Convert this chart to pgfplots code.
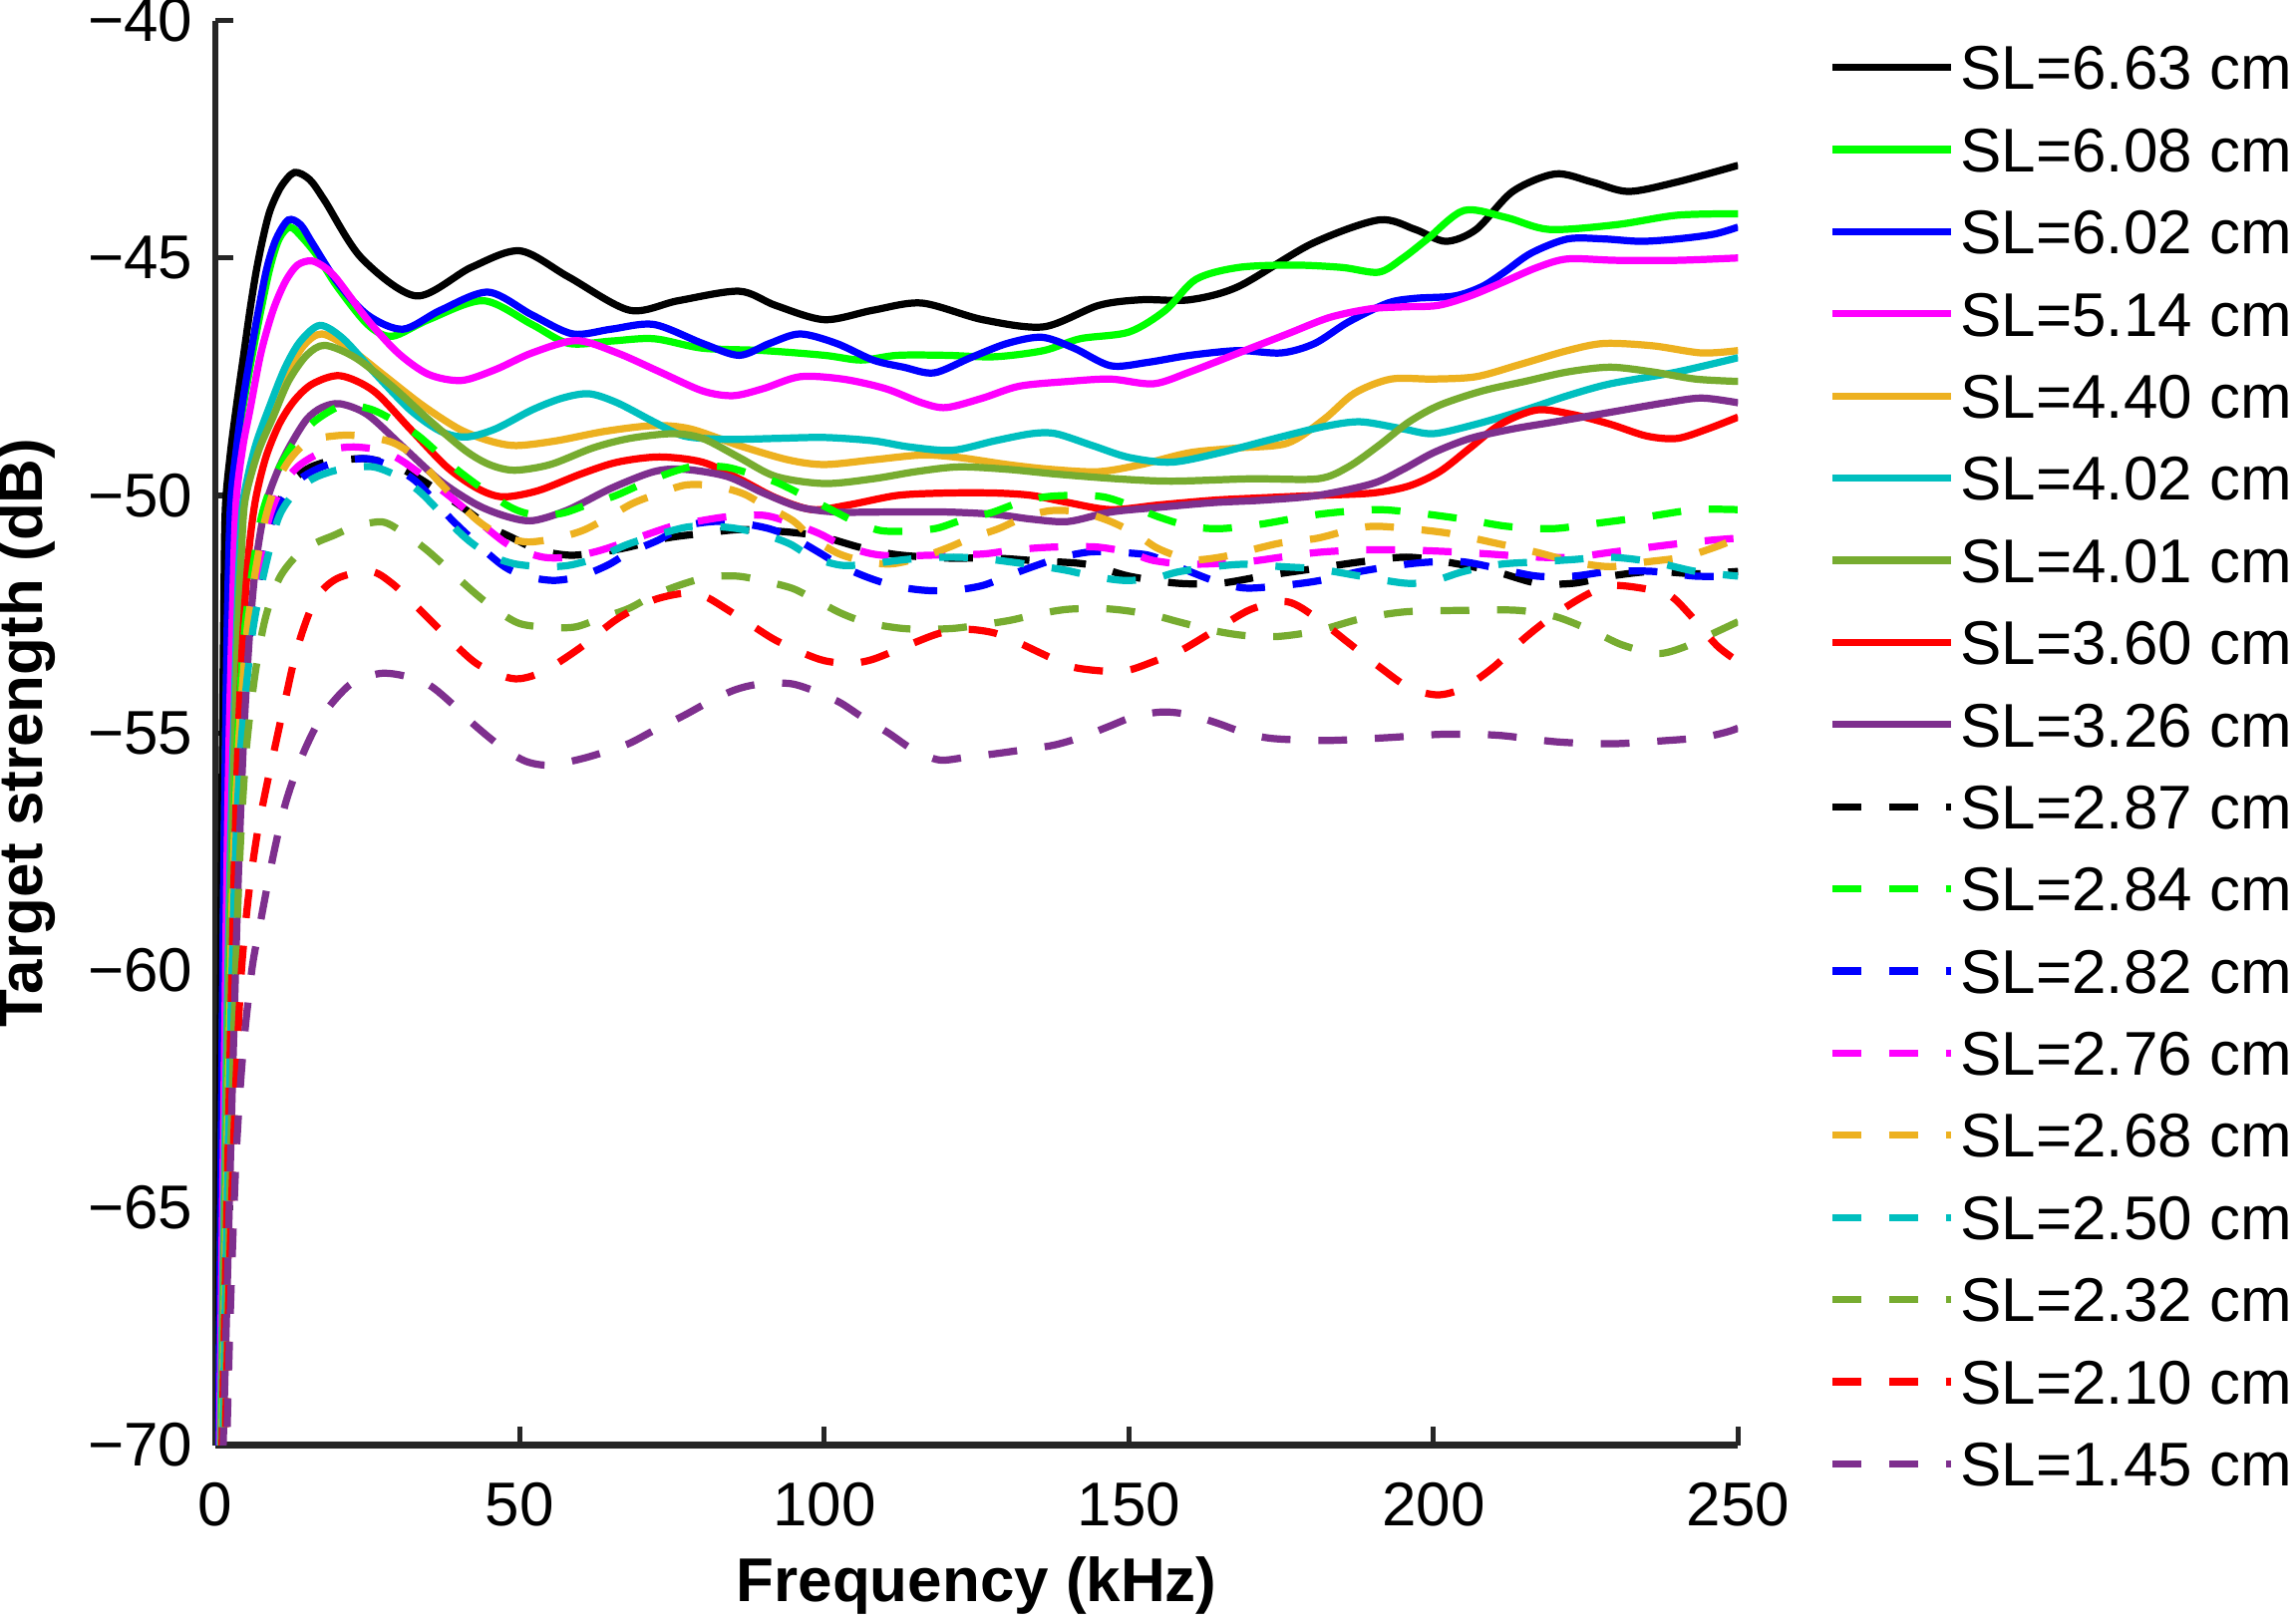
\documentclass[border=0pt]{standalone}
\usepackage{fontspec}
\setmainfont{Liberation Sans}
\usepackage{pgfplots}
\pgfplotsset{compat=1.18}
\definecolor{axgray}{rgb}{0.15,0.15,0.15}
\definecolor{cgreen}{rgb}{0,1,0}
\definecolor{cblue}{rgb}{0,0,1}
\definecolor{cmag}{rgb}{1,0,1}
\definecolor{corange}{rgb}{0.929,0.694,0.125}
\definecolor{ccyan}{rgb}{0,0.75,0.75}
\definecolor{colive}{rgb}{0.466,0.674,0.188}
\definecolor{cred}{rgb}{1,0,0}
\definecolor{cpurple}{rgb}{0.494,0.184,0.556}
\begin{document}
\begin{tikzpicture}
\begin{axis}[
  at={(0,0)}, anchor=south west,
  scale only axis, width=10.40cm, height=9.73cm,
  xmin=0, xmax=250, ymin=-70, ymax=-40,
  axis lines=left,
  axis line style={-, line width=1.3pt, color=axgray},
  tick style={line width=1.0pt, color=axgray},
  major tick length=0.125cm,
  tick align=inside,
  xtick={0,50,100,150,200,250},
  ytick={-70,-65,-60,-55,-50,-45,-40},
  yticklabels={−70,−65,−60,−55,−50,−45,−40},
  /pgf/number format/assume math mode=true,
  ticklabel style={font=\fontsize{12}{14}\selectfont, text=black},
  xticklabel style={yshift=-0.13cm},
  yticklabel style={xshift=-0.03cm},
  xlabel={Frequency (kHz)},
  ylabel={Target strength (dB)},
  label style={font=\fontsize{12}{14}\selectfont\bfseries},
  xlabel style={at={(axis description cs:0.5,-0.0987)}, anchor=center},
  ylabel style={at={(axis description cs:-0.124,0.5)}, anchor=center, rotate=0},
  legend cell align=left,
  legend image code/.code={\draw[#1] (0cm,0cm) -- (0.81cm,0cm);},
  legend style={at={(1.0596,0.9959)}, anchor=north west, draw=none, fill=none,
    inner sep=0pt, outer sep=0pt, row sep=0pt,
    font=\fontsize{12}{14}\selectfont,
    nodes={inner sep=0pt, text height=0.4315cm, text depth=0.1295cm},
    /tikz/every odd column/.append style={column sep=0.04cm}},
  every axis plot/.append style={line width=1.4pt, smooth},
  ds/.style={dash pattern=on 5.6pt off 5.4pt},
]
% ---- solid ----
\addplot[black] coordinates {(0.3,-72) (0.55,-67) (0.8,-62) (1.0,-58) (1.2,-55) (1.4,-52.5) (1.65,-50.3) (2.5,-49.1) (3.5,-48.1) (4.6,-47.1) (5.7,-46.1) (6.7,-45.3) (7.8,-44.6) (9,-44.0) (10.8,-43.5) (13,-43.2) (15.5,-43.35) (18,-43.8) (24,-45.0) (33,-45.8) (42,-45.2) (50,-44.85) (58,-45.4) (68,-46.1) (76,-45.9) (86,-45.7) (92,-46.0) (100,-46.3) (108,-46.1) (116,-45.95) (126,-46.3) (136,-46.45) (145,-46.0) (152,-45.88) (160,-45.88) (168,-45.6) (180,-44.7) (191,-44.2) (197,-44.4) (202,-44.65) (207,-44.4) (213,-43.6) (220,-43.23) (226,-43.4) (232,-43.6) (240,-43.4) (250,-43.05)};
\addlegendentry{SL=6.63 cm}
\addplot[cgreen] coordinates {(0.4,-72) (0.8,-67) (1.15,-62) (1.45,-58) (1.75,-55) (2.1,-52.5) (2.6,-50.2) (3.5,-49.1) (4.5,-48.2) (6,-47.1) (7.5,-46.1) (9,-45.2) (10.5,-44.6) (12.3,-44.35) (14.5,-44.6) (17,-45.0) (20,-45.6) (25,-46.4) (29,-46.65) (35,-46.3) (44,-45.9) (52,-46.4) (58,-46.8) (65,-46.75) (72,-46.7) (80,-46.9) (90,-46.95) (100,-47.05) (106,-47.15) (112,-47.05) (120,-47.05) (128,-47.08) (136,-46.95) (142,-46.7) (150,-46.56) (156,-46.1) (161,-45.45) (168,-45.2) (177,-45.15) (185,-45.2) (191,-45.3) (195,-45.0) (199,-44.6) (205,-44.0) (212,-44.15) (219,-44.4) (230,-44.3) (240,-44.1) (250,-44.07)};
\addlegendentry{SL=6.08 cm}
\addplot[cblue] coordinates {(0.4,-72) (0.75,-67) (1.1,-62) (1.4,-58) (1.7,-55) (2.0,-52.5) (2.5,-50.2) (3.4,-49.1) (4.3,-48.2) (5.7,-47.1) (7.1,-46.1) (8.5,-45.2) (10,-44.6) (12,-44.2) (14,-44.3) (16,-44.7) (20,-45.5) (25,-46.2) (30.8,-46.5) (37,-46.1) (44.8,-45.72) (52,-46.2) (58.7,-46.6) (65,-46.5) (72,-46.4) (80,-46.8) (86,-47.05) (91,-46.8) (96,-46.6) (102,-46.8) (108,-47.15) (113,-47.3) (118,-47.42) (124,-47.1) (130,-46.8) (135.7,-46.67) (141,-46.9) (147,-47.27) (153,-47.2) (160,-47.05) (168,-46.95) (175,-47.0) (180.5,-46.8) (186,-46.35) (192.5,-45.95) (197,-45.85) (203.5,-45.8) (208,-45.6) (211.6,-45.3) (216,-44.9) (222,-44.6) (228,-44.6) (234,-44.65) (240,-44.6) (246,-44.5) (250,-44.35)};
\addlegendentry{SL=6.02 cm}
\addplot[cmag] coordinates {(0.5,-72) (1.0,-67) (1.5,-62) (1.9,-58) (2.3,-55) (2.8,-52.5) (3.4,-50.2) (4.5,-49.0) (5.7,-48.2) (7.5,-47.0) (9.5,-46.1) (11.5,-45.5) (13.5,-45.15) (15.8,-45.06) (18,-45.2) (20,-45.45) (25,-46.3) (30,-47.0) (35,-47.45) (40.4,-47.58) (46,-47.35) (52,-47.0) (59.3,-46.74) (66,-47.0) (73,-47.4) (80,-47.8) (85,-47.9) (90,-47.75) (96,-47.5) (103,-47.55) (110,-47.75) (116,-48.05) (120,-48.15) (126,-47.95) (132,-47.7) (140,-47.6) (147,-47.55) (154,-47.65) (160,-47.4) (168,-47.0) (176,-46.6) (183,-46.25) (189.7,-46.07) (195,-46.03) (200.7,-46.0) (206,-45.8) (211.6,-45.5) (217,-45.2) (222,-45.02) (230,-45.05) (240,-45.05) (250,-45.0)};
\addlegendentry{SL=5.14 cm}
\addplot[corange] coordinates {(0.65,-72) (1.3,-67) (1.9,-62) (2.5,-58) (3.1,-55) (3.7,-52.5) (4.2,-51.2) (4.8,-50.1) (6.8,-49.0) (9,-48.3) (11.5,-47.5) (14.5,-46.85) (17.5,-46.6) (22,-46.9) (28,-47.5) (34,-48.1) (40,-48.6) (45,-48.85) (49.4,-48.95) (56,-48.85) (64,-48.65) (72,-48.53) (78,-48.6) (86,-48.95) (94,-49.25) (100,-49.35) (108,-49.25) (116,-49.15) (122,-49.2) (130,-49.35) (137,-49.45) (145,-49.5) (152,-49.35) (160,-49.1) (168,-49.0) (176,-48.9) (182,-48.4) (187,-47.85) (193,-47.55) (200,-47.55) (207,-47.5) (214,-47.25) (222,-46.95) (228,-46.8) (236,-46.85) (244,-47.0) (250,-46.95)};
\addlegendentry{SL=4.40 cm}
\addplot[ccyan] coordinates {(0.6,-72) (1.2,-67) (1.8,-62) (2.4,-58) (3.0,-55) (3.6,-52.5) (4.0,-51.2) (4.6,-50.1) (6.5,-49.0) (9,-48.1) (11.5,-47.3) (14,-46.75) (17.2,-46.42) (21,-46.7) (26,-47.4) (32,-48.2) (37,-48.65) (41.2,-48.77) (46,-48.6) (52,-48.2) (57,-47.95) (61.4,-47.86) (66,-48.05) (72,-48.45) (77,-48.75) (84,-48.82) (92,-48.8) (100,-48.78) (108,-48.85) (114,-48.98) (121,-49.05) (128,-48.85) (134,-48.7) (138,-48.7) (144,-48.95) (150,-49.2) (157,-49.3) (165,-49.1) (174,-48.8) (182,-48.55) (188,-48.45) (195,-48.6) (200,-48.7) (207,-48.5) (215,-48.2) (222,-47.9) (229,-47.65) (240,-47.4) (250,-47.1)};
\addlegendentry{SL=4.02 cm}
\addplot[colive] coordinates {(0.7,-72) (1.35,-67) (2.0,-62) (2.6,-58) (3.2,-55) (3.8,-52.5) (4.3,-51.2) (4.9,-50.1) (7,-49.1) (9.5,-48.35) (12,-47.6) (15,-47.05) (18,-46.84) (23,-47.1) (29,-47.7) (35,-48.4) (41,-49.05) (45,-49.35) (49.1,-49.47) (55,-49.35) (62,-49.0) (68,-48.8) (75,-48.7) (80,-48.8) (86,-49.2) (92,-49.6) (100,-49.75) (108,-49.65) (115,-49.5) (122,-49.4) (130,-49.45) (138,-49.55) (148,-49.65) (157,-49.7) (170,-49.65) (181,-49.65) (186,-49.4) (191,-48.95) (196,-48.45) (201,-48.1) (208,-47.8) (215,-47.6) (222,-47.4) (229,-47.3) (236,-47.4) (243,-47.55) (250,-47.6)};
\addlegendentry{SL=4.01 cm}
\addplot[cred] coordinates {(0.8,-72) (1.6,-67) (2.4,-62) (3.1,-58) (3.8,-55) (4.6,-52.8) (5.5,-51.2) (6.6,-50.1) (8.3,-49.2) (10.5,-48.5) (13,-48.0) (16,-47.65) (20.5,-47.48) (26,-47.8) (32,-48.6) (38,-49.4) (43,-49.85) (47.2,-50.03) (53,-49.9) (60,-49.55) (66,-49.3) (72.9,-49.19) (80,-49.3) (86,-49.65) (92,-50.05) (98,-50.3) (104,-50.2) (112,-50.0) (120,-49.95) (128,-49.95) (134,-50.0) (140,-50.15) (147,-50.3) (155,-50.2) (164,-50.1) (172,-50.05) (181,-50.0) (190,-49.95) (196,-49.8) (201,-49.5) (206,-49.0) (211,-48.5) (217,-48.2) (223,-48.3) (229,-48.5) (235,-48.75) (240,-48.8) (245,-48.6) (250,-48.35)};
\addlegendentry{SL=3.60 cm}
\addplot[cpurple] coordinates {(0.9,-72) (1.9,-67) (2.9,-62) (3.8,-58) (4.7,-55) (5.7,-52.8) (6.8,-51.3) (8.3,-50.2) (10.2,-49.5) (12.3,-48.95) (15,-48.4) (17.5,-48.15) (20.5,-48.07) (25,-48.3) (31,-49.0) (37,-49.7) (43,-50.2) (48,-50.45) (52.2,-50.53) (58,-50.3) (65,-49.85) (72,-49.5) (77,-49.45) (84,-49.6) (90,-49.95) (96,-50.25) (102,-50.35) (110,-50.35) (120,-50.35) (128,-50.4) (134,-50.5) (140,-50.55) (147,-50.35) (155,-50.25) (164,-50.15) (172,-50.1) (181,-50.0) (190,-49.75) (195,-49.45) (200,-49.1) (206,-48.8) (213,-48.6) (220,-48.45) (229,-48.25) (238,-48.05) (244,-47.95) (250,-48.05)};
\addlegendentry{SL=3.26 cm}
% ---- dashed ----
\addplot[black, ds] coordinates {(0.95,-72) (1.6,-67) (2.35,-62) (3.1,-58) (4.0,-55.3) (5.6,-53) (7.2,-51.75) (9.3,-50.5) (12,-49.8) (15,-49.45) (18,-49.3) (21,-49.25) (24.8,-49.23) (29,-49.35) (33.6,-49.65) (40,-50.2) (45,-50.65) (48.9,-50.9) (53,-51.15) (58.2,-51.26) (63,-51.2) (67.5,-51.1) (74,-50.9) (80,-50.8) (86,-50.72) (92,-50.75) (99,-50.85) (106,-51.1) (112,-51.25) (120,-51.32) (128,-51.32) (135,-51.38) (143,-51.45) (150,-51.7) (158,-51.85) (165,-51.85) (172,-51.7) (180,-51.55) (188,-51.4) (195.5,-51.3) (202,-51.4) (210,-51.6) (217,-51.85) (223,-51.85) (229,-51.7) (236,-51.6) (243,-51.65) (250,-51.6)};
\addlegendentry{SL=2.87 cm}
\addplot[cgreen, ds] coordinates {(0.8,-72) (1.4,-67) (2.1,-62) (2.8,-58) (3.6,-55.3) (4.7,-53) (5.9,-51.75) (7.5,-50.5) (9.2,-49.8) (11,-49.3) (13.5,-48.8) (16.7,-48.4) (21,-48.1) (25.4,-48.18) (29,-48.4) (33.3,-48.74) (40.1,-49.5) (47.8,-50.2) (52,-50.4) (56.8,-50.38) (61,-50.2) (65.8,-50.0) (72,-49.65) (78,-49.4) (83.6,-49.4) (88,-49.55) (92.6,-49.75) (100.8,-50.28) (105,-50.55) (109.2,-50.74) (114,-50.75) (118.5,-50.69) (123,-50.5) (127.5,-50.36) (132,-50.15) (136.3,-50.03) (141,-50.0) (145.8,-50.03) (150,-50.2) (154.8,-50.45) (160,-50.65) (165,-50.7) (172,-50.6) (181,-50.4) (190,-50.3) (196,-50.35) (205,-50.5) (212,-50.65) (219.5,-50.7) (226,-50.6) (235,-50.45) (243,-50.3) (250,-50.3)};
\addlegendentry{SL=2.84 cm}
\addplot[cblue, ds] coordinates {(0.95,-72) (1.6,-67) (2.35,-62) (3.1,-58) (4.0,-55.3) (5.7,-53) (7.3,-51.75) (9.5,-50.5) (12,-49.9) (14.5,-49.6) (17.5,-49.4) (21,-49.27) (25.2,-49.23) (29,-49.4) (33.1,-49.72) (39.2,-50.56) (46.8,-51.44) (51,-51.7) (55.6,-51.79) (60,-51.7) (64.4,-51.47) (68,-51.2) (72.6,-50.95) (77,-50.65) (81.9,-50.55) (86,-50.58) (90.9,-50.7) (95,-50.9) (99.1,-51.2) (103,-51.5) (107.6,-51.75) (112,-51.92) (116.6,-52.0) (121,-52.0) (125.9,-51.9) (130,-51.7) (134.9,-51.47) (139,-51.3) (143.6,-51.19) (148,-51.2) (153.2,-51.26) (158,-51.5) (164,-51.8) (169,-51.95) (175,-51.9) (181,-51.8) (188,-51.6) (195.5,-51.45) (200,-51.4) (205,-51.4) (211,-51.55) (217,-51.7) (223,-51.7) (229,-51.6) (236,-51.6) (243,-51.7) (250,-51.7)};
\addlegendentry{SL=2.82 cm}
\addplot[cmag, ds] coordinates {(0.9,-72) (1.55,-67) (2.3,-62) (3.0,-58) (3.9,-55.3) (5.4,-53) (6.8,-51.75) (8.8,-50.5) (11,-49.8) (13.5,-49.4) (16.5,-49.15) (19.5,-49.02) (22.8,-48.98) (27,-49.05) (31,-49.3) (38.6,-50.03) (45.6,-50.8) (49,-51.1) (53.8,-51.3) (58,-51.3) (62.6,-51.18) (67,-51.0) (71.4,-50.8) (75,-50.65) (79,-50.55) (84,-50.45) (90.1,-50.42) (95,-50.6) (99.1,-50.8) (103,-51.05) (107.8,-51.23) (112,-51.28) (117.1,-51.26) (122,-51.25) (126.4,-51.23) (131,-51.15) (135.7,-51.1) (140,-51.08) (145,-51.09) (150,-51.2) (154,-51.37) (160,-51.45) (169,-51.4) (175,-51.3) (181,-51.2) (188,-51.15) (195.5,-51.15) (205,-51.2) (217,-51.3) (223,-51.3) (229,-51.2) (238,-51.05) (245,-50.95) (250,-50.9)};
\addlegendentry{SL=2.76 cm}
\addplot[corange, ds] coordinates {(0.85,-72) (1.5,-67) (2.2,-62) (2.9,-58) (3.8,-55.3) (5.1,-53) (6.4,-51.75) (8.2,-50.5) (10.2,-49.7) (12.5,-49.2) (15.5,-48.85) (20.1,-48.74) (24,-48.75) (29,-48.88) (33,-49.2) (37,-49.75) (42.7,-50.49) (47,-50.85) (51.2,-50.98) (56,-50.9) (60.3,-50.74) (64,-50.5) (68.5,-50.17) (73,-49.95) (77.3,-49.78) (82,-49.8) (86.6,-49.96) (90,-50.2) (94.8,-50.53) (98,-50.9) (102.4,-51.23) (107,-51.4) (111.2,-51.44) (116,-51.3) (120.5,-51.09) (124,-50.9) (128.6,-50.7) (133,-50.45) (137.3,-50.32) (142,-50.35) (146.6,-50.53) (151,-50.8) (154.8,-51.12) (160,-51.35) (165,-51.3) (170,-51.15) (175,-51.0) (181,-50.9) (187,-50.7) (190.6,-50.65) (196,-50.7) (202.6,-50.8) (210,-51.0) (217,-51.2) (223,-51.4) (229,-51.5) (235,-51.4) (241,-51.3) (246,-51.1) (250,-50.9)};
\addlegendentry{SL=2.68 cm}
\addplot[ccyan, ds] coordinates {(1.0,-72) (1.65,-67) (2.4,-62) (3.2,-58) (4.2,-55.3) (6.0,-53) (7.8,-51.75) (10.3,-50.5) (13,-49.95) (16,-49.65) (19,-49.5) (22,-49.42) (26,-49.4) (30,-49.6) (33.9,-49.96) (40.6,-50.84) (45,-51.25) (49.1,-51.44) (54,-51.5) (58.2,-51.47) (63,-51.3) (67.3,-51.05) (72,-50.85) (77.3,-50.67) (81,-50.65) (85.2,-50.69) (90,-50.82) (94.3,-51.02) (98,-51.3) (102.7,-51.47) (107,-51.45) (112,-51.37) (116,-51.32) (121.2,-51.3) (126,-51.33) (130.5,-51.4) (135,-51.48) (139.8,-51.58) (144,-51.7) (149.1,-51.79) (154,-51.75) (158.1,-51.61) (164,-51.5) (169,-51.45) (175,-51.5) (181,-51.55) (188,-51.7) (195.5,-51.85) (200,-51.8) (205,-51.6) (211,-51.45) (217,-51.4) (223,-51.35) (229,-51.3) (236,-51.4) (243,-51.6) (250,-51.7)};
\addlegendentry{SL=2.50 cm}
\addplot[colive, ds] coordinates {(1.2,-72) (2.0,-67) (2.9,-62) (3.9,-58) (5.0,-55.5) (6.5,-53.8) (8.2,-52.6) (10.5,-51.75) (13.5,-51.25) (16.5,-51.0) (19.3,-50.85) (23,-50.65) (27.5,-50.56) (31,-50.8) (35.1,-51.19) (42.1,-52.0) (46,-52.4) (50,-52.7) (55,-52.78) (59.1,-52.77) (63,-52.6) (67.9,-52.38) (72,-52.1) (76.7,-51.87) (81,-51.72) (85.7,-51.7) (90,-51.8) (94.8,-51.96) (98.5,-52.2) (102.9,-52.49) (107,-52.68) (112,-52.79) (116,-52.82) (121.2,-52.8) (126,-52.72) (130.5,-52.63) (135,-52.5) (139.8,-52.4) (145,-52.38) (149.1,-52.42) (154,-52.52) (158.1,-52.66) (164,-52.85) (169,-52.95) (174.5,-52.97) (181,-52.85) (188,-52.6) (195.5,-52.45) (205.6,-52.42) (213.8,-52.42) (220,-52.55) (226,-52.85) (231,-53.15) (236.7,-53.33) (241,-53.2) (246,-52.9) (250,-52.66)};
\addlegendentry{SL=2.32 cm}
\addplot[cred, ds] coordinates {(1.3,-72) (2.2,-67) (3.2,-63) (4.2,-60.2) (5.4,-58.5) (6.8,-57.2) (8.3,-56.2) (9.8,-55.3) (11.5,-54.3) (13.5,-53.2) (16.4,-52.2) (20,-51.75) (25.5,-51.6) (29,-51.85) (32.8,-52.31) (39.5,-53.16) (43,-53.55) (47.1,-53.8) (50,-53.86) (54,-53.7) (60,-53.2) (66,-52.6) (72,-52.2) (77.6,-52.05) (80.6,-52.14) (84,-52.4) (88.5,-52.77) (92,-53.05) (96.7,-53.33) (100,-53.48) (104,-53.54) (108,-53.45) (114.4,-53.12) (119,-52.9) (123.4,-52.82) (128,-52.9) (132.2,-53.12) (136,-53.35) (140.6,-53.61) (146,-53.7) (149.9,-53.68) (154,-53.5) (158.6,-53.26) (164,-52.85) (170,-52.4) (176,-52.24) (181,-52.6) (186,-53.1) (191,-53.6) (196,-54.05) (200.7,-54.2) (205,-54.05) (210,-53.6) (215,-53.0) (220,-52.5) (225,-52.1) (229,-51.9) (234,-51.95) (238.7,-52.1) (242,-52.5) (246.5,-53.16) (250,-53.5)};
\addlegendentry{SL=2.10 cm}
\addplot[cpurple, ds] coordinates {(1.5,-72) (2.4,-67.5) (3.4,-64) (4.5,-61.8) (6,-60.0) (7.4,-59.0) (9.5,-57.6) (11.5,-56.5) (13.9,-55.6) (16.4,-54.9) (19,-54.4) (22.5,-53.95) (27,-53.75) (31,-53.8) (35.2,-54.0) (39,-54.4) (42.6,-54.84) (47,-55.3) (51,-55.6) (54.9,-55.68) (60,-55.55) (64,-55.4) (68,-55.22) (72,-54.95) (77,-54.63) (81,-54.35) (85.2,-54.1) (89,-53.98) (94.2,-53.96) (98,-54.1) (102.4,-54.35) (106,-54.65) (110.6,-55.01) (114.5,-55.35) (118.8,-55.57) (123,-55.52) (128.6,-55.43) (133,-55.35) (137.6,-55.26) (142,-55.1) (146.6,-54.87) (151,-54.65) (155.6,-54.56) (160,-54.62) (164.6,-54.8) (169,-55.0) (173.7,-55.12) (182.7,-55.16) (192.5,-55.1) (201.5,-55.03) (210.5,-55.05) (220.3,-55.19) (229.3,-55.23) (238.4,-55.16) (244,-55.1) (248.2,-54.98) (250,-54.9)};
\addlegendentry{SL=1.45 cm}
\end{axis}
\pgfresetboundingbox
\path[use as bounding box] (-1.47cm,-1.21cm) rectangle (14.21cm,9.87cm);
\end{tikzpicture}
\end{document}
